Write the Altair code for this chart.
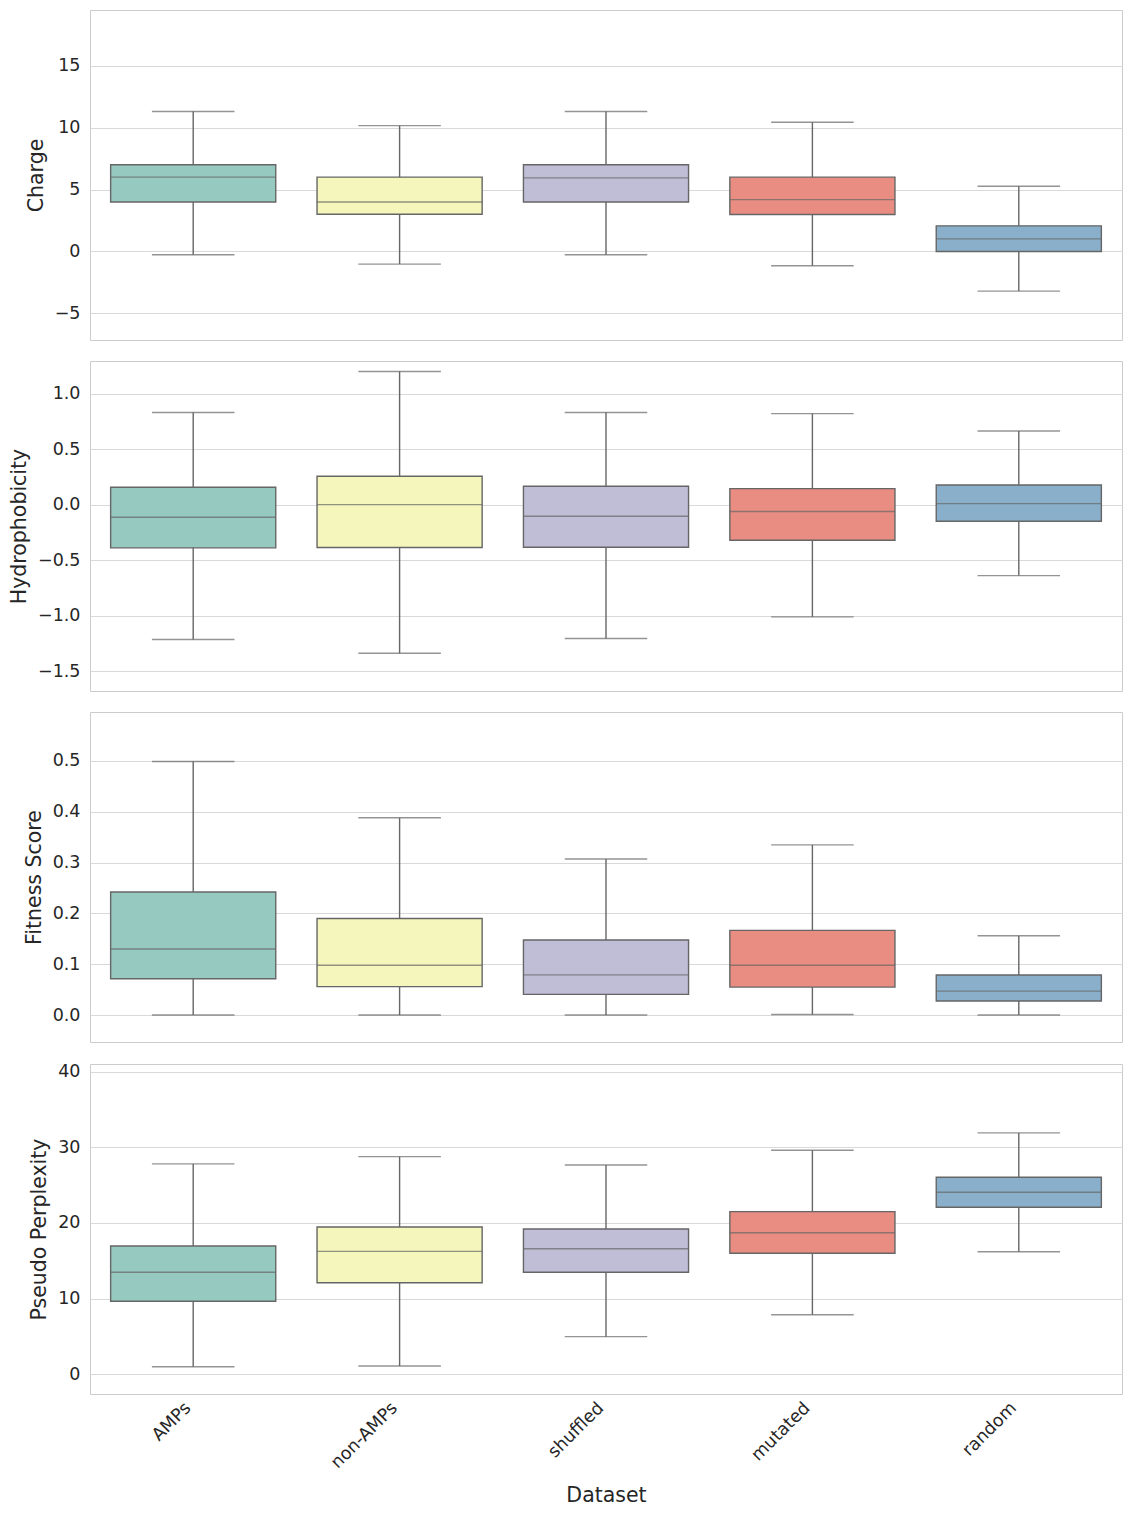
import altair as alt
import pandas as pd

datasets = ["AMPs", "non-AMPs", "shuffled", "mutated", "random"]
colors = ["#96c9c0", "#f5f6bb", "#c0bdd6", "#e98c81", "#89afcb"]

# Charge
charge_low = [-0.27, -1.02, -0.27, -1.15, -3.2]
charge_q1 = [4.0, 3.0, 4.0, 2.98, 0.0]
charge_med = [6.0, 4.0, 5.94, 4.19, 1.02]
charge_q3 = [7.0, 6.0, 7.0, 6.0, 2.07]
charge_high = [11.3, 10.16, 11.3, 10.43, 5.27]

# Hydrophobicity
hyd_low = [-1.216, -1.34, -1.207, -1.012, -0.64]
hyd_q1 = [-0.39, -0.387, -0.385, -0.322, -0.15]
hyd_med = [-0.114, 0.0, -0.105, -0.063, 0.009]
hyd_q3 = [0.156, 0.255, 0.165, 0.144, 0.177]
hyd_high = [0.83, 1.20, 0.83, 0.82, 0.663]

# Fitness Score
fit_low = [0.0, 0.0, 0.0, 0.001, 0.0]
fit_q1 = [0.0715, 0.056, 0.0406, 0.055, 0.0276]
fit_med = [0.13, 0.098, 0.079, 0.098, 0.047]
fit_q3 = [0.242, 0.19, 0.1476, 0.1666, 0.0787]
fit_high = [0.4987, 0.388, 0.307, 0.3346, 0.156]

# Pseudo Perplexity
ppl_low = [1.0, 1.1, 4.98, 7.88, 16.2]
ppl_q1 = [9.65, 12.1, 13.48, 15.99, 22.07]
ppl_med = [13.48, 16.25, 16.6, 18.7, 24.06]
ppl_q3 = [16.96, 19.47, 19.2, 21.5, 26.04]
ppl_high = [27.8, 28.76, 27.66, 29.6, 31.9]

panels = [
    ("Charge", charge_low, charge_q1, charge_med, charge_q3, charge_high,
     [-7.15, 19.5], [-5, 0, 5, 10, 15], "d"),
    ("Hydrophobicity", hyd_low, hyd_q1, hyd_med, hyd_q3, hyd_high,
     [-1.68, 1.294], [-1.5, -1.0, -0.5, 0.0, 0.5, 1.0], ".1f"),
    ("Fitness Score", fit_low, fit_q1, fit_med, fit_q3, fit_high,
     [-0.053, 0.596], [0.0, 0.1, 0.2, 0.3, 0.4, 0.5], ".1f"),
    ("Pseudo Perplexity", ppl_low, ppl_q1, ppl_med, ppl_q3, ppl_high,
     [-2.6, 41.0], [0, 10, 20, 30, 40], "d"),
]

W = 1032
H = 330
band = W / len(datasets)
line_col = "#666666"
FONT = "DejaVu Sans"
TXT = "#262626"
LFS = 17.5
TFS = 20.5

charts = []
for i, (name, lo, q1, med, q3, hi, dom, ticks, fmt) in enumerate(panels):
    df = pd.DataFrame({"Dataset": datasets, "low": lo, "q1": q1, "median": med,
                       "q3": q3, "high": hi})
    last = i == len(panels) - 1
    if last:
        xaxis = alt.Axis(title="Dataset", labelAngle=-45, labelAlign="right",
                         labelBaseline="middle", grid=False, ticks=False,
                         domain=False, labelPadding=11, labelOffset=-5,
                         titlePadding=14,
                         labelFontSize=LFS, titleFontSize=TFS,
                         labelFont=FONT, titleFont=FONT, labelColor=TXT,
                         titleColor=TXT, titleFontWeight="normal")
    else:
        xaxis = None
    x = alt.X("Dataset:N", sort=datasets, axis=xaxis,
              scale=alt.Scale(domain=datasets, paddingInner=0, paddingOuter=0))
    yscale = alt.Scale(domain=dom, nice=False, zero=False)
    yaxis = alt.Axis(title=name, values=ticks, format=fmt, ticks=False,
                     domain=False, labelPadding=10, titlePadding=8,
                     gridColor="#d9d9d9", gridWidth=1,
                     labelFontSize=LFS, titleFontSize=TFS,
                     labelFont=FONT, titleFont=FONT, labelColor=TXT,
                     titleColor=TXT, titleFontWeight="normal")
    base = alt.Chart(df)
    whisk = base.mark_rule(color=line_col, strokeWidth=1.4).encode(
        x=x, y=alt.Y("low:Q", scale=yscale, axis=yaxis), y2="high:Q")
    caps_lo = base.mark_tick(color=line_col, size=band * 0.4, thickness=1.4).encode(
        x=x, y=alt.Y("low:Q", scale=yscale))
    caps_hi = base.mark_tick(color=line_col, size=band * 0.4, thickness=1.4).encode(
        x=x, y=alt.Y("high:Q", scale=yscale))
    box = base.mark_bar(width=alt.RelativeBandSize(0.8), stroke=line_col,
                        strokeWidth=1.4).encode(
        x=x, y=alt.Y("q1:Q", scale=yscale), y2="q3:Q",
        color=alt.Color("Dataset:N", scale=alt.Scale(domain=datasets, range=colors),
                        legend=None))
    medl = base.mark_tick(color=line_col, size=band * 0.8, thickness=1.4).encode(
        x=x, y=alt.Y("median:Q", scale=yscale))
    charts.append(alt.layer(whisk, caps_lo, caps_hi, box, medl).properties(
        width=W, height=H))

chart = alt.vconcat(*charts, spacing=19).properties(
    background="white",
    padding={"left": 1, "top": 1, "right": 1, "bottom": 2},
).configure_view(
    stroke="#cccccc", strokeWidth=1
)

chart.save("out.html", embed_options={"renderer": "svg", "actions": False})
